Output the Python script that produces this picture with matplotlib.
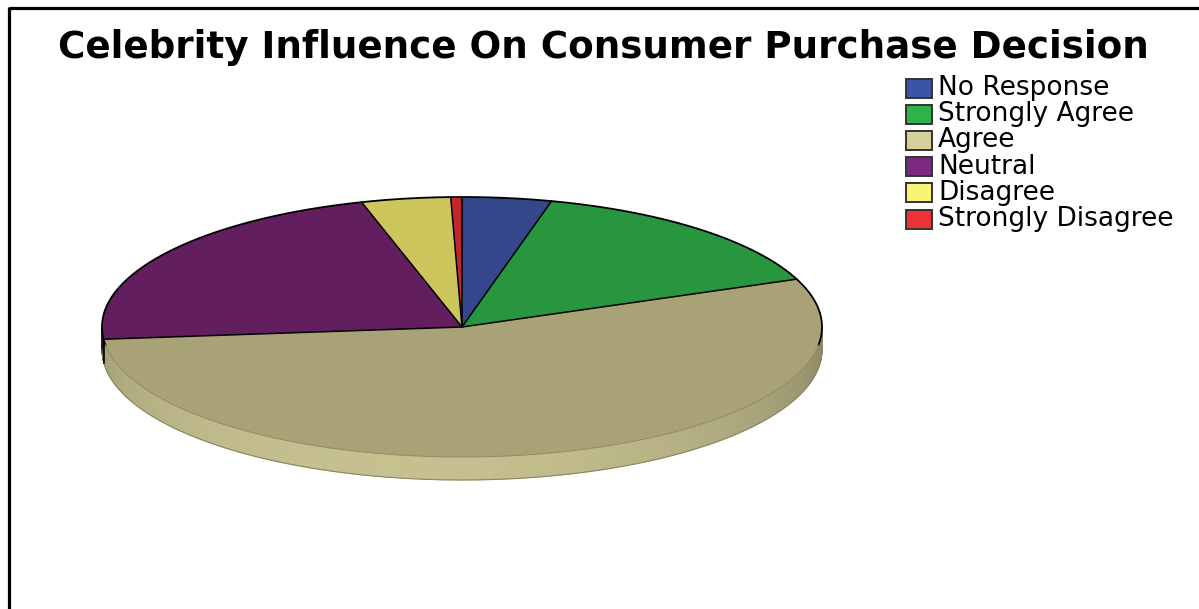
import numpy as np
import matplotlib.pyplot as plt
import matplotlib.colors as mcolors
from matplotlib.patches import Polygon, Rectangle

# survey answers (counts)
categories = ['No Response', 'Strongly Agree', 'Agree', 'Neutral', 'Disagree', 'Strongly Disagree']
counts = [8, 30, 109, 44, 8, 1]
top_colors = ['#33478A', '#27963E', '#A8A276', '#621E5F', '#CCC65C', '#C4262B']
key_colors = ['#3B55A6', '#2DB34A', '#D5CF9A', '#7B2A7F', '#F8F477', '#EE3338']
title = 'Celebrity Influence On Consumer Purchase Decision'

# pie geometry in pixel units
cx, cy = 462, 327
rx, ry = 360, 130
depth = 23


def pt(theta, dy=0.0):
    t = np.radians(theta)
    return np.column_stack((cx + rx * np.cos(t), cy - ry * np.sin(t) + dy))


fig = plt.figure(figsize=(11.99, 6.09), dpi=100)
ax = fig.add_axes([0, 0, 1, 1])
ax.set_xlim(0, 1199)
ax.set_ylim(609, 0)
ax.axis('off')

fracs = np.array(counts) / sum(counts)
ends = 90 - 360 * np.cumsum(fracs)
starts = np.r_[90, ends[:-1]]

# side wall: only the front half (sin < 0) is visible
for s, e, c in zip(starts, ends, key_colors):
    th = np.linspace(e, s, int((s - e) * 2) + 2)
    th = th[np.sin(np.radians(th)) < 0]
    if len(th) < 2:
        continue
    base = np.array(mcolors.to_rgb(c))
    for a0, a1 in zip(th[:-1], th[1:]):
        shade = 0.70 + 0.23 * (-np.sin(np.radians((a0 + a1) / 2 + 12)))
        col = np.clip(base * shade, 0, 1)
        if c == key_colors[3]:
            col = base * 0.35
        quad = np.vstack((pt([a0, a1]), pt([a1, a0], depth)))
        ax.add_patch(Polygon(quad, closed=True, facecolor=col, edgecolor=col, lw=0.6))

# lower rim of the wall
th = np.linspace(180, 360, 200)
ax.plot(*pt(th, depth).T, color='#8a8766', lw=0.8)

# top faces
for s, e, c in zip(starts, ends, top_colors):
    th = np.linspace(s, e, int((s - e) * 2) + 2)
    poly = np.vstack(([[cx, cy]], pt(th)))
    ax.add_patch(Polygon(poly, closed=True, facecolor=c, edgecolor='none'))

# slice borders and back outline
for a in starts:
    p = pt([a])[0]
    ax.plot([cx, p[0]], [cy, p[1]], color='black', lw=1.1)
th = np.linspace(-8, 188, 300)
ax.plot(*pt(th).T, color='black', lw=1.3)
th = np.linspace(188, 352, 300)
ax.plot(*pt(th).T, color='#8f8b66', lw=0.7)
ax.plot([cx + rx * np.cos(np.radians(186))] * 2, [cy + 14, cy + 36], color='black', lw=1.2)

ax.text(603, 48, title, ha='center', va='center', fontsize=26.8,
        fontweight='bold', family='DejaVu Sans', color='black')

# legend
for i, (lab, c) in enumerate(zip(categories, key_colors)):
    yc = 88 + i * 26.2
    ax.add_patch(Rectangle((906, yc - 9.5), 26, 19, facecolor=c, edgecolor='#333333', lw=1.4))
    ax.text(938, yc, lab, ha='left', va='center', fontsize=19, family='DejaVu Sans', color='black')

# frame
ax.plot([9, 1199], [8, 8], color='black', lw=2.3, solid_capstyle='butt')
ax.plot([9, 9], [7, 609], color='black', lw=2.3, solid_capstyle='butt')

fig.savefig('out.png', dpi=100)
